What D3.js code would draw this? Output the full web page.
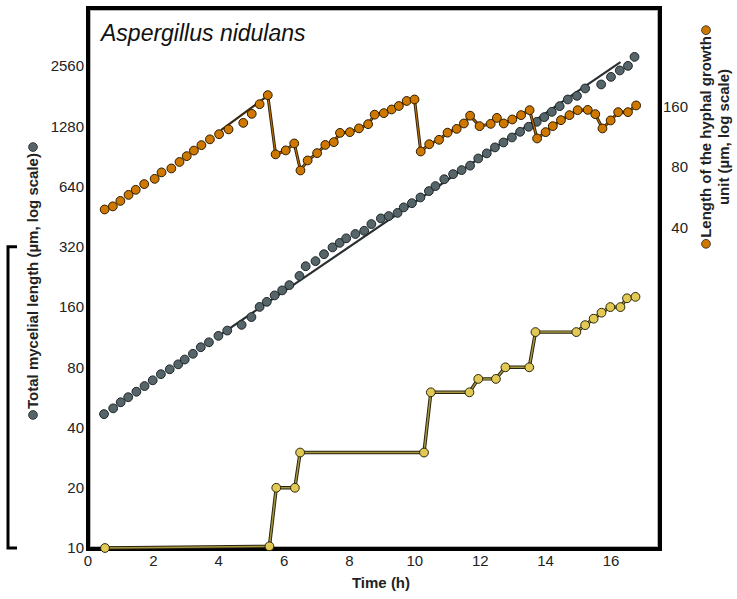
<!doctype html>
<html lang="en">
<head>
<meta charset="utf-8">
<title>Aspergillus nidulans growth</title>
<script src="https://d3js.org/d3.v7.min.js" charset="utf-8"></script>
<style>
body { margin: 0; background: #fff; }
svg text { font-family: "Liberation Sans", Arial, sans-serif; fill: #222; }
.tick-label { font-size: 15px; }
.axis-title { font-size: 15px; font-weight: bold; }
</style>
</head>
<body>
<div id="vis-container"></div>
<script type="text/javascript">

// total mycelial length (left axis, um)
var mycTime = [0.49,0.77,1.0,1.23,1.48,1.73,1.98,2.23,2.5,2.76,2.96,3.21,3.45,3.70,3.99,4.26,4.70,5.0,5.25,5.47,
  5.71,5.94,6.16,6.47,6.66,6.96,7.22,7.48,7.70,7.90,8.18,8.45,8.67,8.96,9.20,9.47,9.66,9.91,10.17,10.43,
  10.63,10.90,11.17,11.43,11.69,11.94,12.20,12.45,12.71,12.97,13.22,13.48,13.73,13.96,14.19,14.43,14.68,14.96,15.21,15.70,
  16.0,16.27,16.52,16.72];
var mycLength = [46.7,49.9,53.5,56.7,60.4,64.5,68.9,73.9,78.2,82.8,87.5,93.5,100.8,106.7,114.9,122.1,130.4,142.6,160.3,170,
  183,193.9,206,229,256,271.5,294,318,335,353,371,385,416,444,456,473,504,529,565,608,
  644,697,739,774,815,885,938,1005,1064,1127,1203,1274,1349,1424,1513,1616,1745,1819,1981,2074,
  2263,2437,2569,2849];

// length of the hyphal growth unit (right axis, um)
var hguTime = [0.51,0.76,0.99,1.24,1.46,1.72,2.04,2.25,2.55,2.80,3.02,3.24,3.47,3.73,4.01,4.30,4.75,5.01,5.25,5.50,
  5.74,6.05,6.31,6.50,6.72,7.01,7.26,7.52,7.71,8.01,8.29,8.57,8.77,9.05,9.29,9.51,9.75,9.99,10.18,10.44,
  10.74,11.0,11.28,11.50,11.69,11.98,12.32,12.51,12.72,12.98,13.25,13.51,13.74,14.0,14.22,14.47,14.73,14.98,15.29,15.52,
  15.74,15.99,16.22,16.52,16.77];
var hguLength = [49.2,51.0,54.3,58.2,61.7,65.9,70.0,75.4,78.9,85.0,90.9,96.9,103.2,110.3,117.0,123.7,133.3,147.9,165.3,183.4,
  92.8,97.1,105.2,77.1,86.5,94.1,103.4,106.8,118.8,119.8,125.1,131.3,146.5,149.1,155.5,161.9,171.5,174.5,95.9,104.3,
  109.7,119.1,124.4,132.4,144.8,128.4,131.8,141.2,132.4,138.6,145.7,154.3,111.4,119.8,128.4,137.5,145.7,154.3,154.8,147.4,
  125.0,137.1,150.8,150.8,162.9];
var hguLinkedFrom = 5.5;

// yellow series, plotted against the left axis
var tipTime = [0.52,5.55,5.76,6.33,6.49,10.28,10.49,11.67,11.94,12.48,12.77,13.50,13.69,14.94,15.21,15.47,15.71,15.98,16.29,16.49,16.75];
var tipValue = [10,10.2,20,20,30,30,60,60,70,70,80,80,120,120,130,140,150,160,160,177,180];

// fitted exponential lines
var mycFitTime = [4.1, 16.29], mycFitLength = [118, 2680];
var hguFitTime = [4.07, 5.45], hguFitLength = [122.6, 179.8];

var xTicks = [0,2,4,6,8,10,12,14,16];
var leftTicks = [10,20,40,80,160,320,640,1280,2560];
var rightTicks = [40,80,160];

var W = 737, H = 599;
var box = { left: 88, right: 660, top: 8, bottom: 548 };

var svg = d3.select("#vis-container").append("svg")
    .attr("width", W).attr("height", H);

var x = d3.scaleLinear().domain([0, 17.5]).range([box.left, box.right]);
var yL = d3.scaleLog().domain([10, 5000]).range([box.bottom, box.top]);
var yR = d3.scaleLog().domain([1, 500]).range([box.bottom, box.top]);

var grayFill = "#55656a", orangeFill = "#cf7800", yellowFill = "#e2c955";

// frame
svg.append("rect")
    .attr("x", box.left).attr("y", box.top)
    .attr("width", box.right - box.left).attr("height", box.bottom - box.top + 1)
    .attr("fill", "none").attr("stroke", "#000").attr("stroke-width", 4);
svg.append("rect")
    .attr("x", box.left + 2.5).attr("y", box.top + 2.5)
    .attr("width", box.right - box.left - 5).attr("height", box.bottom - box.top - 4)
    .attr("fill", "none").attr("stroke", "#b5b5b5").attr("stroke-width", 1);

// tick labels
svg.selectAll(".xl").data(xTicks).enter().append("text")
    .attr("class", "tick-label")
    .attr("x", function(d) { return x(d); })
    .attr("y", box.bottom + 18)
    .attr("text-anchor", "middle")
    .text(function(d) { return d; });

svg.selectAll(".yl").data(leftTicks).enter().append("text")
    .attr("class", "tick-label")
    .attr("x", box.left - 4)
    .attr("y", function(d) { return yL(d); })
    .attr("dy", "0.35em")
    .attr("text-anchor", "end")
    .text(function(d) { return d; });

svg.selectAll(".yr").data(rightTicks).enter().append("text")
    .attr("class", "tick-label")
    .attr("x", 688)
    .attr("y", function(d) { return yR(d); })
    .attr("dy", "0.35em")
    .attr("text-anchor", "end")
    .text(function(d) { return d; });

// title
svg.append("text")
    .attr("x", 101).attr("y", 41)
    .style("font-size", "23px").style("font-style", "italic")
    .style("fill", "#111")
    .text("Aspergillus nidulans");

svg.append("text")
    .attr("class", "axis-title")
    .attr("x", 381).attr("y", 588)
    .attr("text-anchor", "middle")
    .text("Time (h)");

// rotated label with a dot at each end
function dottedLabel(cx, cy, str, fill) {
    var g = svg.append("g").attr("transform", "translate(" + cx + "," + cy + ") rotate(-90)");
    var t = g.append("text").attr("class", "axis-title")
        .attr("text-anchor", "middle").text(str);
    var half = t.node().getComputedTextLength() / 2;
    [-half - 6, half + 6].forEach(function(p) {
        g.append("circle").attr("cx", p).attr("cy", -5).attr("r", 4.4)
            .attr("fill", fill).attr("stroke", "#222").attr("stroke-width", 0.8);
    });
    return g;
}
dottedLabel(38, 281, "Total mycelial length (\u00b5m, log scale)", grayFill);
dottedLabel(711, 137, "Length of the hyphal growth", orangeFill);
svg.append("text").attr("class", "axis-title")
    .attr("transform", "translate(729,137) rotate(-90)")
    .attr("text-anchor", "middle")
    .text("unit (\u00b5m, log scale)");

// bracket on the far left
svg.append("path")
    .attr("d", "M17," + yL(320) + "H8V" + yL(10) + "H17")
    .attr("fill", "none").attr("stroke", "#000").attr("stroke-width", 3);

function pts(ts, vs) { return ts.map(function(t, i) { return [t, vs[i]]; }); }

var lineL = d3.line().x(function(d) { return x(d[0]); }).y(function(d) { return yL(d[1]); });
var lineR = d3.line().x(function(d) { return x(d[0]); }).y(function(d) { return yR(d[1]); });

// mycelial length
svg.append("path").attr("d", lineL(pts(mycFitTime, mycFitLength)))
    .attr("fill", "none").attr("stroke", "#2a3032").attr("stroke-width", 2.2);
svg.append("g").selectAll("circle").data(pts(mycTime, mycLength)).enter().append("circle")
    .attr("cx", function(d) { return x(d[0]); })
    .attr("cy", function(d) { return yL(d[1]); })
    .attr("r", 4.4)
    .attr("fill", grayFill).attr("stroke", "#1e2527").attr("stroke-width", 1);

// hyphal growth unit
var hgu = pts(hguTime, hguLength);
var hguLinked = hgu.filter(function(d) { return d[0] >= hguLinkedFrom; });
svg.append("path").attr("d", lineR(pts(hguFitTime, hguFitLength)))
    .attr("fill", "none").attr("stroke", "#3a2a10").attr("stroke-width", 2.2);
svg.append("path").attr("d", lineR(hguLinked))
    .attr("fill", "none").attr("stroke", "#2e200a").attr("stroke-width", 3);
svg.append("path").attr("d", lineR(hguLinked))
    .attr("fill", "none").attr("stroke", "#b96c00").attr("stroke-width", 1.2);
svg.append("g").selectAll("circle").data(hgu).enter().append("circle")
    .attr("cx", function(d) { return x(d[0]); })
    .attr("cy", function(d) { return yR(d[1]); })
    .attr("r", 4.4)
    .attr("fill", orangeFill).attr("stroke", "#2a1a00").attr("stroke-width", 1);

// yellow series
var tips = pts(tipTime, tipValue);
svg.append("path").attr("d", lineL(tips))
    .attr("fill", "none").attr("stroke", "#262410").attr("stroke-width", 3.4);
svg.append("path").attr("d", lineL(tips))
    .attr("fill", "none").attr("stroke", "#a8963e").attr("stroke-width", 1.5);
svg.append("g").selectAll("circle").data(tips).enter().append("circle")
    .attr("cx", function(d) { return x(d[0]); })
    .attr("cy", function(d) { return yL(d[1]); })
    .attr("r", 4.4)
    .attr("fill", yellowFill).attr("stroke", "#2a2608").attr("stroke-width", 1);

</script>
</body>
</html>
